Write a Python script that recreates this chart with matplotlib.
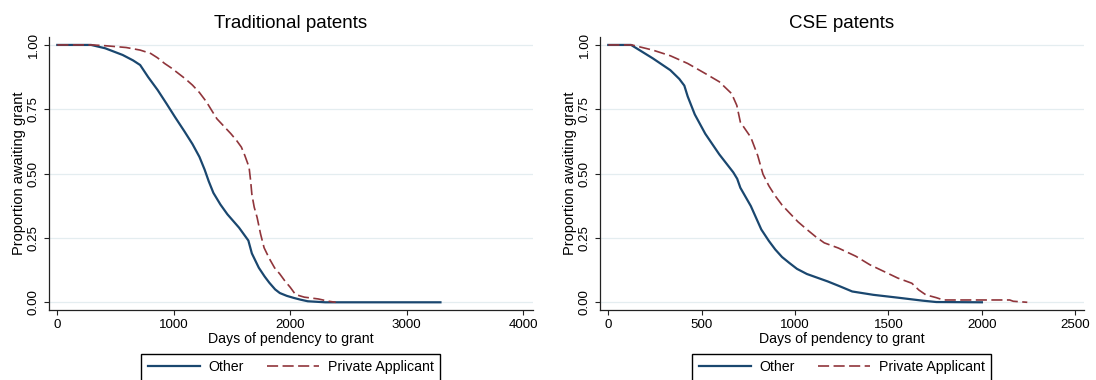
import matplotlib
matplotlib.use("Agg")
import matplotlib.pyplot as plt

plt.rcParams["font.family"] = ["Liberation Sans", "DejaVu Sans"]
plt.rcParams["lines.scale_dashes"] = False

NAVY = "#1a476f"
MAROON = "#90353b"
GRID = "#e4edf0"

# Traditional patents: share still awaiting grant by days pending
trad_other_days = [0, 290, 411, 561, 650, 711, 780, 861, 940, 1010, 1090, 1160, 1220,
                   1265, 1300, 1340, 1400, 1460, 1560, 1640, 1670, 1730, 1780, 1820,
                   1870, 1910, 1970, 2030, 2090, 2150, 2300, 3289]
trad_other_prop = [1.0, 1.0, 0.987, 0.961, 0.940, 0.922, 0.875, 0.825, 0.770, 0.720,
                   0.665, 0.615, 0.565, 0.515, 0.470, 0.425, 0.380, 0.342, 0.290,
                   0.240, 0.190, 0.134, 0.100, 0.076, 0.050, 0.036, 0.025, 0.017,
                   0.010, 0.004, 0.0, 0.0]

trad_private_days = [0, 300, 411, 591, 711, 801, 860, 921, 980, 1040, 1100, 1160, 1220,
                     1280, 1330, 1370, 1430, 1490, 1540, 1580, 1610, 1646, 1660, 1670,
                     1690, 1715, 1745, 1775, 1820, 1865, 1910, 1955, 2000, 2045, 2120,
                     2240, 2330, 2390]
trad_private_prop = [1.0, 1.0, 0.997, 0.990, 0.980, 0.967, 0.950, 0.928, 0.910, 0.889,
                     0.868, 0.844, 0.815, 0.779, 0.742, 0.713, 0.684, 0.655, 0.628,
                     0.603, 0.570, 0.525, 0.470, 0.420, 0.370, 0.330, 0.265, 0.212,
                     0.170, 0.134, 0.110, 0.082, 0.058, 0.030, 0.020, 0.013, 0.004, 0.0]

# CSE patents
cse_other_days = [0, 122, 238, 332, 380, 407, 425, 463, 519, 594, 669, 690, 707, 763,
                  819, 860, 894, 930, 969, 1010, 1063, 1175, 1240, 1306, 1419, 1550,
                  1681, 1756, 2000]
cse_other_prop = [1.0, 1.0, 0.948, 0.902, 0.868, 0.842, 0.800, 0.730, 0.655, 0.575,
                  0.505, 0.480, 0.445, 0.374, 0.283, 0.238, 0.205, 0.176, 0.153,
                  0.130, 0.110, 0.081, 0.062, 0.042, 0.029, 0.018, 0.0065, 0.001, 0.0]

cse_private_days = [0, 126, 238, 332, 425, 519, 594, 660, 688, 707, 763, 800, 828, 860,
                    894, 930, 969, 1015, 1063, 1110, 1156, 1231, 1325, 1400, 1475,
                    1550, 1625, 1662, 1700, 1756, 1793, 2149, 2168, 2243]
cse_private_prop = [1.0, 1.0, 0.980, 0.958, 0.928, 0.889, 0.857, 0.811, 0.765, 0.700,
                    0.641, 0.570, 0.498, 0.452, 0.413, 0.378, 0.348, 0.313, 0.283,
                    0.255, 0.231, 0.211, 0.179, 0.146, 0.120, 0.094, 0.074, 0.048,
                    0.029, 0.018, 0.009, 0.009, 0.004, 0.0]

yticks = [0, 0.25, 0.5, 0.75, 1.0]
ytick_labels = ["0.00", "0.25", "0.50", "0.75", "1.00"]

panels = [
    ("Traditional patents", trad_other_days, trad_other_prop,
     trad_private_days, trad_private_prop, [0, 1000, 2000, 3000, 4000], (-74, 4081)),
    ("CSE patents", cse_other_days, cse_other_prop,
     cse_private_days, cse_private_prop, [0, 500, 1000, 1500, 2000, 2500], (-46, 2545)),
]

W, H = 1096, 380
fig = plt.figure(figsize=(W / 100, H / 100), dpi=100)
fig.patch.set_facecolor("white")

lefts = [48.7, 599.7]
for left_px, (title, od, op, pd_, pp, xt, xl) in zip(lefts, panels):
    ax = fig.add_axes([left_px / W, (H - 309.5) / H, 484 / W, 272.8 / H])
    ax.plot(od, op, color=NAVY, lw=1.6, label="Other", solid_joinstyle="round")
    ax.plot(pd_, pp, color=MAROON, lw=1.2, dashes=(8, 3.2), label="Private Applicant")
    ax.set_xlim(*xl)
    ax.set_ylim(-0.028, 1.032)
    ax.set_xticks(xt)
    ax.set_yticks(yticks)
    ax.set_yticklabels(ytick_labels, rotation=90, va="center")
    for y in yticks:
        ax.axhline(y, color=GRID, lw=0.9, zorder=0)
    for s in ("top", "right"):
        ax.spines[s].set_visible(False)
    for s in ("left", "bottom"):
        ax.spines[s].set_color("#222222")
        ax.spines[s].set_linewidth(0.9)
    ax.tick_params(labelsize=9.6, length=3.6, width=0.8, pad=3.0, colors="#222222",
                   labelcolor="black")
    ax.set_title(title, fontsize=13.5, pad=6)
    ax.set_xlabel("Days of pendency to grant", fontsize=10.2, labelpad=1)
    ax.set_ylabel("Proportion awaiting grant", fontsize=10.5, labelpad=1)

    cx = (left_px + 242) / W
    handles, labels = ax.get_legend_handles_labels()
    fig.legend(handles, labels, loc="upper center", bbox_to_anchor=(cx, 1 - 354 / H),
               ncol=2, fontsize=10.2, frameon=True, fancybox=False, edgecolor="black",
               framealpha=1, borderpad=0.45, handlelength=3.7, handletextpad=0.6,
               columnspacing=1.6, borderaxespad=0)

fig.savefig("out.png", dpi=100)
